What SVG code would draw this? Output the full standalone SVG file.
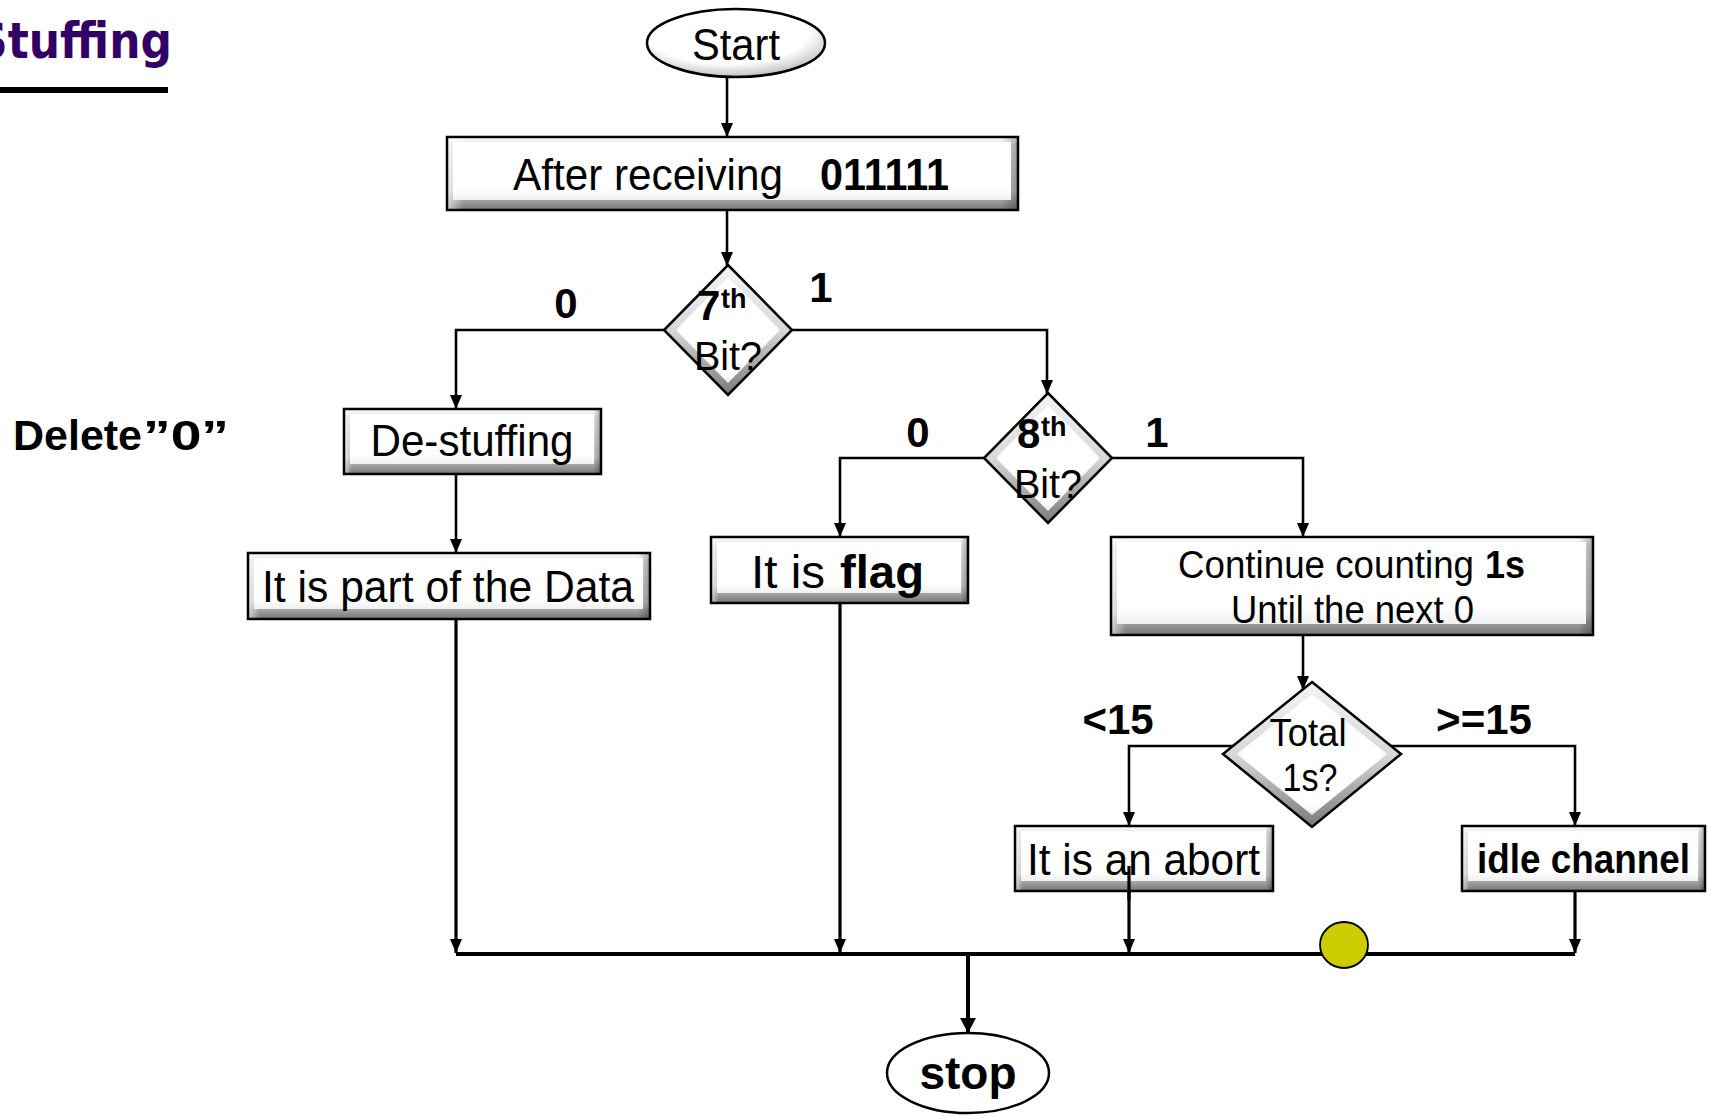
<svg xmlns="http://www.w3.org/2000/svg" width="1710" height="1116" viewBox="0 0 1710 1116">
  <defs>
    <style>
      text { font-family: "Liberation Sans", Arial, sans-serif; fill: #000; }
      .t { font-size: 44px; }
      .b { font-weight: bold; }
      .mid { text-anchor: middle; }
      .lbl { font-size: 42px; font-weight: bold; text-anchor: middle; }
      .dt { font-size: 40px; }
      .frame { fill: none; stroke: #000; stroke-width: 2.5; }
      .bev { fill: url(#bevV); }
      .shade { fill: url(#bevH); }
      .face { fill: url(#faceV); }
      .dbev { fill: url(#dmdV); }
      .dface { fill: url(#dmdFace); }
      .wire { fill: none; stroke: #000; stroke-width: 2.6; }
      .heavy { stroke-width: 3.2; }
      .bus { fill: none; stroke: #000; stroke-width: 4; }
      .arr { marker-end: url(#ah); }
      .arrL { marker-end: url(#ahL); }
    </style>
    <linearGradient id="bevV" x1="0" y1="0" x2="0" y2="1">
      <stop offset="0" stop-color="#ffffff"/>
      <stop offset="0.12" stop-color="#e4e4e4"/>
      <stop offset="0.75" stop-color="#c6c6c6"/>
      <stop offset="1" stop-color="#767676"/>
    </linearGradient>
    <linearGradient id="bevH" x1="0" y1="0" x2="1" y2="0">
      <stop offset="0" stop-color="#ffffff" stop-opacity="0.6"/>
      <stop offset="0.03" stop-color="#ffffff" stop-opacity="0"/>
      <stop offset="0.97" stop-color="#000000" stop-opacity="0"/>
      <stop offset="1" stop-color="#000000" stop-opacity="0.3"/>
    </linearGradient>
    <linearGradient id="faceV" x1="0" y1="0" x2="0" y2="1">
      <stop offset="0" stop-color="#ffffff"/>
      <stop offset="0.8" stop-color="#ffffff"/>
      <stop offset="1" stop-color="#f0f0f0"/>
    </linearGradient>
    <linearGradient id="dmdV" x1="0" y1="0" x2="0" y2="1">
      <stop offset="0" stop-color="#f4f4f4"/>
      <stop offset="0.5" stop-color="#d8d8d8"/>
      <stop offset="1" stop-color="#7a7a7a"/>
    </linearGradient>
    <radialGradient id="dmdFace" cx="0.5" cy="0.45" r="0.6">
      <stop offset="0" stop-color="#ffffff"/>
      <stop offset="0.75" stop-color="#ffffff"/>
      <stop offset="1" stop-color="#e2e2e2"/>
    </radialGradient>
    <radialGradient id="ovalFill" cx="0.45" cy="0.35" r="0.7">
      <stop offset="0" stop-color="#ffffff"/>
      <stop offset="0.65" stop-color="#ffffff"/>
      <stop offset="0.88" stop-color="#cccccc"/>
      <stop offset="1" stop-color="#8a8a8a"/>
    </radialGradient>
    <marker id="ah" markerUnits="userSpaceOnUse" viewBox="0 0 14 12" refX="14" refY="6" markerWidth="14" markerHeight="12" orient="auto">
      <path d="M0,0 L14,6 L0,12 z" fill="#000"/>
    </marker>
    <marker id="ahL" markerUnits="userSpaceOnUse" viewBox="0 0 15 16" refX="15" refY="8" markerWidth="15" markerHeight="16" orient="auto">
      <path d="M0,0 L15,8 L0,16 z" fill="#000"/>
    </marker>
  </defs>

  <rect width="1710" height="1116" fill="#ffffff"/>

  <!-- heading (runs off the left edge of the page) -->
  <g id="heading">
    <text x="-24" y="58" style="font-family:'DejaVu Sans',sans-serif;font-weight:bold;font-size:50px;fill:#330066" textLength="196" lengthAdjust="spacingAndGlyphs">Stuffing</text>
    <rect x="0" y="87" width="168" height="6" fill="#000"/>
  </g>

  <!-- side note -->
  <g id="note-delete">
    <text class="b" x="13" y="450" style="font-size:42px" textLength="129" lengthAdjust="spacingAndGlyphs">Delete</text>
    <text class="b" x="143" y="450" style="font-size:42px" textLength="86" lengthAdjust="spacingAndGlyphs">”0”</text>
  </g>

  <!-- connectors -->
  <g id="connectors">
    <path class="wire arr" d="M727,77 V137"/>
    <path class="wire arr" d="M727,210 V266"/>
    <path class="wire arr" d="M664,330 H456 V409"/>
    <path class="wire arr" d="M792,330 H1047 V394"/>
    <path class="wire arr" d="M984,458 H840 V537"/>
    <path class="wire arr" d="M1112,458 H1303 V537"/>
    <path class="wire arr" d="M456,474 V553"/>
    <path class="wire arr" d="M1303,635 V690"/>
    <path class="wire arr" d="M1233,746 H1129 V826"/>
    <path class="wire arr" d="M1391,746 H1575 V826"/>
    <path class="wire heavy arr" d="M456,619 V953"/>
    <path class="wire heavy arr" d="M840,603 V953"/>
    <path class="wire heavy arr" d="M1129,866 V953"/>
    <path class="wire heavy arr" d="M1575,891 V953"/>
    <path class="bus" d="M456,954 H1575"/>
    <path class="bus arrL" d="M968,954 V1033"/>
  </g>

  <!-- edge labels -->
  <g id="edge-labels">
    <text class="lbl" x="566" y="318">0</text>
    <text class="lbl" x="821" y="302">1</text>
    <text class="lbl" x="918" y="447">0</text>
    <text class="lbl" x="1157" y="447">1</text>
    <text class="lbl" x="1118" y="734">&lt;15</text>
    <text class="lbl" x="1484" y="734">&gt;=15</text>
  </g>

  <!-- start terminal -->
  <g id="n-start">
    <ellipse cx="736" cy="43" rx="89" ry="34" fill="url(#ovalFill)" stroke="#000" stroke-width="2.5"/>
    <text class="mid" x="736" y="60" style="font-size:45px" textLength="88" lengthAdjust="spacingAndGlyphs">Start</text>
  </g>

  <!-- after receiving 011111 -->
  <g id="n-after">
    <rect class="bev" x="447" y="137" width="571" height="73"/>
    <rect class="shade" x="447" y="137" width="571" height="73"/>
    <rect class="face" x="453" y="142" width="558" height="58"/>
    <rect class="frame" x="447" y="137" width="571" height="73"/>
    <text class="t" x="513" y="190" textLength="270" lengthAdjust="spacingAndGlyphs">After receiving</text>
    <text class="t b" x="820" y="190" textLength="129" lengthAdjust="spacingAndGlyphs">011111</text>
  </g>

  <!-- 7th bit decision -->
  <g id="n-bit7">
    <polygon class="dbev" points="728,265 792,330 728,395 664,330"/>
    <polygon class="dface" points="728,277 780,330 728,383 676,330"/>
    <polygon class="frame" points="728,265 792,330 728,395 664,330"/>
    <text class="b" x="697" y="320" style="font-size:42px">7</text>
    <text class="b" x="721" y="308" style="font-size:27px">th</text>
    <text class="dt mid" x="728" y="370" textLength="68" lengthAdjust="spacingAndGlyphs">Bit?</text>
  </g>

  <!-- 8th bit decision -->
  <g id="n-bit8">
    <polygon class="dbev" points="1048,393 1112,458 1048,523 984,458"/>
    <polygon class="dface" points="1048,405 1100,458 1048,511 996,458"/>
    <polygon class="frame" points="1048,393 1112,458 1048,523 984,458"/>
    <text class="b" x="1017" y="448" style="font-size:42px">8</text>
    <text class="b" x="1041" y="436" style="font-size:27px">th</text>
    <text class="dt mid" x="1048" y="498" textLength="68" lengthAdjust="spacingAndGlyphs">Bit?</text>
  </g>

  <!-- de-stuffing -->
  <g id="n-destuff">
    <rect class="bev" x="344" y="409" width="257" height="65"/>
    <rect class="shade" x="344" y="409" width="257" height="65"/>
    <rect class="face" x="350" y="414" width="244" height="50"/>
    <rect class="frame" x="344" y="409" width="257" height="65"/>
    <text class="t mid" x="472" y="456" textLength="203" lengthAdjust="spacingAndGlyphs">De-stuffing</text>
  </g>

  <!-- part of data -->
  <g id="n-data">
    <rect class="bev" x="248" y="553" width="402" height="66"/>
    <rect class="shade" x="248" y="553" width="402" height="66"/>
    <rect class="face" x="254" y="558" width="389" height="51"/>
    <rect class="frame" x="248" y="553" width="402" height="66"/>
    <text class="t mid" x="448" y="602" textLength="372" lengthAdjust="spacingAndGlyphs">It is part of the Data</text>
  </g>

  <!-- flag -->
  <g id="n-flag">
    <rect class="bev" x="711" y="537" width="257" height="66"/>
    <rect class="shade" x="711" y="537" width="257" height="66"/>
    <rect class="face" x="717" y="542" width="244" height="51"/>
    <rect class="frame" x="711" y="537" width="257" height="66"/>
    <text x="751" y="588" style="font-size:47px" textLength="74" lengthAdjust="spacingAndGlyphs">It is</text>
    <text class="b" x="840" y="588" style="font-size:47px" textLength="84" lengthAdjust="spacingAndGlyphs">flag</text>
  </g>

  <!-- continue counting -->
  <g id="n-continue">
    <rect class="bev" x="1111" y="537" width="482" height="98"/>
    <rect class="shade" x="1111" y="537" width="482" height="98"/>
    <rect class="face" x="1117" y="542" width="469" height="82"/>
    <rect class="frame" x="1111" y="537" width="482" height="98"/>
    <text x="1178" y="578" style="font-size:38px" textLength="296" lengthAdjust="spacingAndGlyphs">Continue counting</text>
    <text class="b" x="1485" y="578" style="font-size:38px" textLength="40" lengthAdjust="spacingAndGlyphs">1s</text>
    <text x="1231" y="623" style="font-size:38px" textLength="243" lengthAdjust="spacingAndGlyphs">Until the next 0</text>
  </g>

  <!-- total 1s decision -->
  <g id="n-total">
    <polygon class="dbev" points="1312,682 1401,754 1312,827 1223,754"/>
    <polygon class="dface" points="1312,694 1387,754 1312,815 1237,754"/>
    <polygon class="frame" points="1312,682 1401,754 1312,827 1223,754"/>
    <text class="mid" x="1308" y="746" style="font-size:38px" textLength="77" lengthAdjust="spacingAndGlyphs">Total</text>
    <text class="mid" x="1310" y="791" style="font-size:38px" textLength="55" lengthAdjust="spacingAndGlyphs">1s?</text>
  </g>

  <!-- abort -->
  <g id="n-abort">
    <rect class="bev" x="1015" y="826" width="258" height="65"/>
    <rect class="shade" x="1015" y="826" width="258" height="65"/>
    <rect class="face" x="1021" y="831" width="245" height="50"/>
    <rect class="frame" x="1015" y="826" width="258" height="65"/>
    <text class="t" x="1027" y="875" textLength="233" lengthAdjust="spacingAndGlyphs">It is an abort</text>
  </g>

  <!-- idle channel -->
  <g id="n-idle">
    <rect class="bev" x="1462" y="826" width="243" height="65"/>
    <rect class="shade" x="1462" y="826" width="243" height="65"/>
    <rect class="face" x="1468" y="831" width="230" height="50"/>
    <rect class="frame" x="1462" y="826" width="243" height="65"/>
    <text class="b" x="1477" y="873" style="font-size:40px" textLength="213" lengthAdjust="spacingAndGlyphs">idle channel</text>
  </g>

  <!-- abort branch line drawn over its box, as it starts inside the label -->
  <path class="wire heavy" d="M1129,866 V900"/>

  <!-- marker dot on the bus -->
  <g id="dot">
    <ellipse cx="1344" cy="945" rx="24" ry="23" fill="#cccc00" stroke="#000" stroke-width="1.8"/>
  </g>

  <!-- stop terminal -->
  <g id="n-stop">
    <ellipse cx="968" cy="1073" rx="81" ry="40" fill="#ffffff" stroke="#000" stroke-width="2.5"/>
    <text class="b mid" x="968" y="1089" style="font-size:46px">stop</text>
  </g>
</svg>
